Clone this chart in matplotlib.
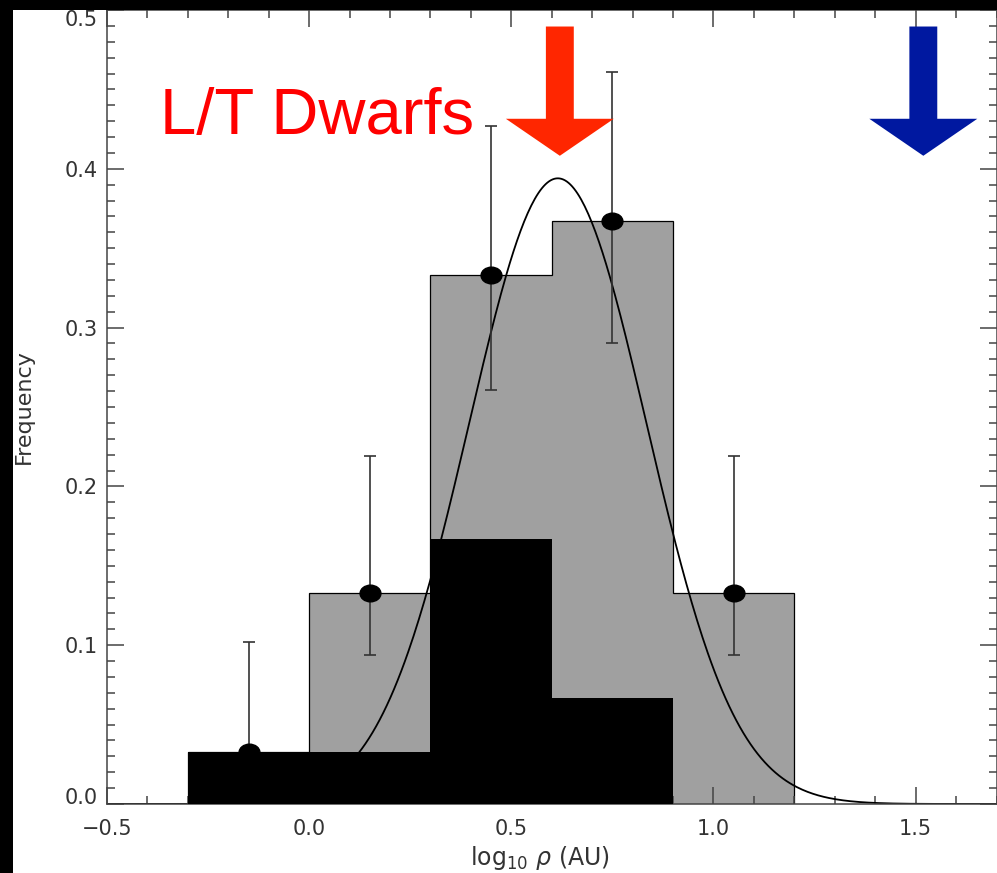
import numpy as np
import matplotlib.pyplot as plt
from matplotlib.patches import Polygon, Rectangle
from matplotlib.path import Path
from matplotlib.ticker import MultipleLocator

# histogram bins (log10 separation, AU)
bin_edges = [-0.3, 0.0, 0.3, 0.6, 0.9, 1.2]
all_freq = [0.033, 0.133, 0.333, 0.367, 0.133]     # grey histogram
lt_freq = [0.033, 0.033, 0.167, 0.067]             # black histogram

# points with error bars
pt_x = [-0.15, 0.15, 0.45, 0.75, 1.05]
pt_y = [0.033, 0.133, 0.333, 0.367, 0.133]
pt_lo = [0.005, 0.094, 0.261, 0.290, 0.094]
pt_hi = [0.102, 0.219, 0.427, 0.461, 0.219]

# gaussian fit parameters
fit_amp = 0.394
fit_mu = 0.615
fit_sigma = 0.22

# arrow markers
arrow_x = [0.62, 1.519]
arrow_colors = ['#ff2600', '#0018a0']

y_ticks = [0.0, 0.1, 0.2, 0.3, 0.4, 0.5]
x_ticks = [-0.5, 0.0, 0.5, 1.0, 1.5]


def arrow_poly(xc, top=0.4896, base=0.4315, tip=0.4082, shaft_w=0.069, head_w=0.267):
    s = shaft_w / 2
    h = head_w / 2
    return [(xc - s, top), (xc + s, top), (xc + s, base), (xc + h, base),
            (xc, tip), (xc - h, base), (xc - s, base)]


fig = plt.figure(figsize=(9.97, 8.73), dpi=100)
fig.patch.set_facecolor('white')
ax = fig.add_axes([107/997, 69/873, 889.5/997, 794/873])

ax.stairs(all_freq, bin_edges, fill=True, color='#a0a0a0', zorder=1)
ax.stairs(all_freq, bin_edges, color='black', linewidth=0.9, zorder=1.1)

xs = np.linspace(-0.5, 1.7, 500)
ax.plot(xs, fit_amp * np.exp(-(xs - fit_mu)**2 / (2 * fit_sigma**2)),
        color='black', linewidth=1.3, zorder=2)

yerr = [np.array(pt_y) - np.array(pt_lo), np.array(pt_hi) - np.array(pt_y)]
ax.errorbar(pt_x, pt_y, yerr=yerr, fmt='none', ecolor='#333333',
            elinewidth=1.2, capsize=4, capthick=1.2, zorder=2.5)

ax.stairs(lt_freq, bin_edges[:-1], fill=True, color='black', zorder=3)

circ = Path.unit_circle()
ell = Path(circ.vertices * np.array([1.0, 0.8]), circ.codes)
ax.plot(pt_x, pt_y, linestyle='none', marker=ell, markersize=15,
        color='black', zorder=5)

for xc, c in zip(arrow_x, arrow_colors):
    ax.add_patch(Polygon(arrow_poly(xc), closed=True, facecolor=c,
                         edgecolor='none', zorder=6))

ax.text(-0.37, 0.422, 'L/T Dwarfs', color='#ff0000', fontsize=47,
        family=['Liberation Sans', 'DejaVu Sans'], ha='left', va='baseline', zorder=6)

ax.set_xlim(-0.5, 1.7)
ax.set_ylim(0, 0.5)
ax.set_xticks(x_ticks)
ax.set_xticklabels([f'{v:.1f}'.replace('-', '\u2212') for v in x_ticks])
ax.set_yticks(y_ticks)
ax.set_yticklabels([f'{v:.1f}' for v in y_ticks])
ax.xaxis.set_minor_locator(MultipleLocator(0.1))
ax.yaxis.set_minor_locator(MultipleLocator(0.01))

ax.tick_params(which='both', direction='in', top=True, right=True,
               color='#444444', width=1.1, labelcolor='#333333', labelsize=15)
ax.tick_params(which='major', length=12)
ax.tick_params(which='minor', length=6)
ax.tick_params(axis='x', pad=11)
ax.tick_params(axis='y', pad=7)
for sp in ax.spines.values():
    sp.set_color('#444444')
    sp.set_linewidth(1.1)

yt = ax.yaxis.get_major_ticks()
yt[0].label1.set_va('baseline')
yt[-1].label1.set_va('top')

ax.set_xlabel(r'log$_{10}$ $\rho$ (AU)', fontsize=17, color='#333333')
ax.xaxis.set_label_coords(0.487, -0.068)
ax.xaxis.label.set_va('center')
ax.set_ylabel('Frequency', fontsize=16, color='#333333')
ax.yaxis.set_label_coords(-0.094, 0.5)
ax.yaxis.label.set_va('center')

# black frame bands at top and left
fig.patches.append(Rectangle((0, 1 - 10/873), 1, 10/873, transform=fig.transFigure,
                             facecolor='black', edgecolor='none', zorder=10))
fig.patches.append(Rectangle((0, 0), 13/997, 1, transform=fig.transFigure,
                             facecolor='black', edgecolor='none', zorder=10))

fig.savefig('out.png', dpi=100, facecolor='white')
